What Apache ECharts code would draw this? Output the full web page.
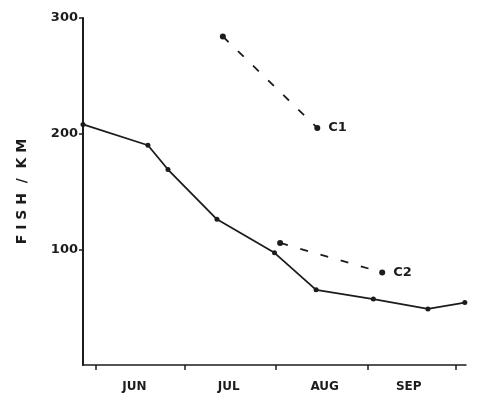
<!DOCTYPE html>
<html>
<head>
<meta charset="utf-8">
<script src="https://cdn.jsdelivr.net/npm/echarts@6/dist/echarts.min.js"></script>
<style>html,body{margin:0;padding:0;background:#fff;}#chart{width:477px;height:400px;}</style>
</head>
<body>
<div id="chart"></div>
<script>
// x values are days since June 1
const monthLabels = ['JUN', 'JUL', 'AUG', 'SEP'];
const monthLabelDays = [13, 45, 77.5, 106];
const monthTickDays = [0, 30, 61, 92, 122];
const yTicks = [100, 200, 300];

const mainDays = [-4.4, 17.6, 24.4, 41, 60.5, 74.6, 94, 112.5, 125];
const mainValues = [208, 190, 169, 126, 97, 65, 57, 48.5, 54];

const c1Days = [43, 75];
const c1Values = [284, 205];

const c2Days = [62.4, 97];
const c2Values = [105.5, 80];

const ink = '#1c1c1c';
const zip = (xs, ys) => xs.map((x, i) => [x, ys[i]]);

function endLabel(text, n) {
  return {
    show: true, position: 'right', distance: 8,
    color: ink, fontFamily: 'DejaVu Sans', fontWeight: 'bold', fontSize: 13,
    formatter: p => (p.dataIndex === n - 1 ? text : '')
  };
}

const chart = echarts.init(document.getElementById('chart'));
chart.setOption({
  animation: false,
  backgroundColor: '#fff',
  grid: { left: 83, right: 11, top: 18, bottom: 35, containLabel: false },
  xAxis: {
    type: 'value', min: -4.4, max: 125.4,
    splitLine: { show: false },
    axisLine: { show: true, onZero: false, lineStyle: { color: ink, width: 1.5 } },
    axisTick: { show: true, length: 5, customValues: monthTickDays, lineStyle: { color: ink, width: 1.5 } },
    axisLabel: {
      customValues: monthLabelDays, margin: 16,
      color: ink, fontFamily: 'DejaVu Sans', fontWeight: 'bold', fontSize: 12,
      formatter: v => monthLabels[monthLabelDays.indexOf(v)]
    }
  },
  yAxis: {
    type: 'value', min: 0, max: 300,
    name: 'F I S H  /  K M', nameLocation: 'middle', nameGap: 54, nameRotate: 90,
    nameTextStyle: { color: ink, fontFamily: 'DejaVu Sans', fontWeight: 'bold', fontSize: 14 },
    splitLine: { show: false },
    axisLine: { show: true, onZero: false, lineStyle: { color: ink, width: 2 } },
    axisTick: { show: true, length: 4, customValues: yTicks, lineStyle: { color: ink, width: 1.5 } },
    axisLabel: {
      customValues: yTicks, margin: 5,
      color: ink, fontFamily: 'DejaVu Sans', fontWeight: 'bold', fontSize: 13
    }
  },
  series: [
    {
      type: 'line', data: zip(mainDays, mainValues),
      symbol: 'circle', symbolSize: 5, showAllSymbol: true,
      lineStyle: { color: ink, width: 1.8 }, itemStyle: { color: ink }
    },
    {
      type: 'line', data: zip(c1Days, c1Values),
      symbol: 'circle', symbolSize: 6,
      lineStyle: { color: ink, width: 1.8, type: [8, 13] }, itemStyle: { color: ink },
      label: endLabel('C1', c1Days.length)
    },
    {
      type: 'line', data: zip(c2Days, c2Values),
      symbol: 'circle', symbolSize: 6,
      lineStyle: { color: ink, width: 1.8, type: [8, 13] }, itemStyle: { color: ink },
      label: endLabel('C2', c2Days.length)
    }
  ]
});
</script>
</body>
</html>
